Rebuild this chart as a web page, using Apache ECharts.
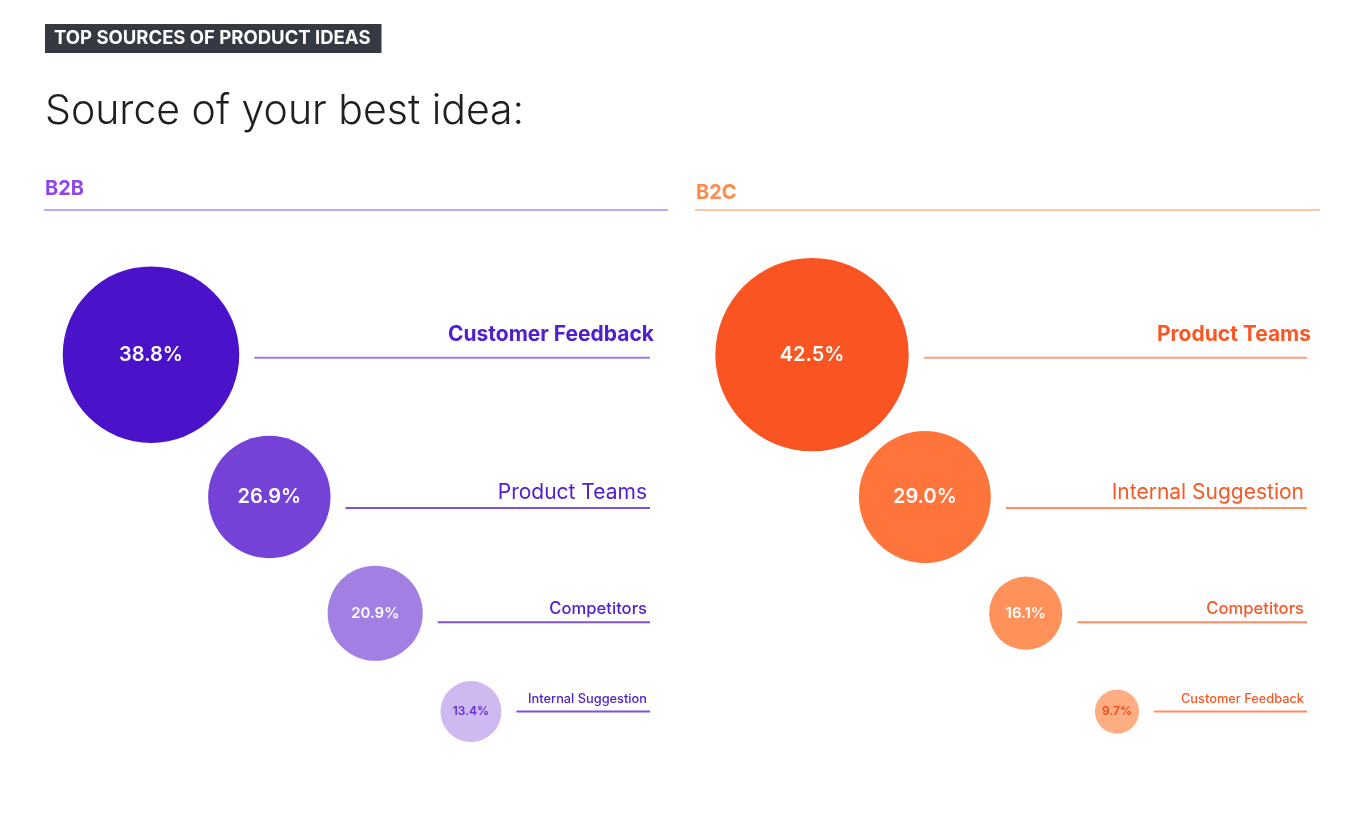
<!DOCTYPE html>
<html>
<head>
<meta charset="utf-8">
<script src="https://cdn.jsdelivr.net/npm/echarts@6/dist/echarts.min.js"></script>
<style>
html,body{margin:0;padding:0;background:#fff;}
#chart{width:1371px;height:832px;}
</style>
</head>
<body>
<div id="chart"></div>
<script>
// ---- data ----
const b2bLabels = ['Customer Feedback', 'Product Teams', 'Competitors', 'Internal Suggestion'];
const b2bValues = [38.8, 26.9, 20.9, 13.4];
const b2cLabels = ['Product Teams', 'Internal Suggestion', 'Competitors', 'Customer Feedback'];
const b2cValues = [42.5, 29.0, 16.1, 9.7];

// ---- layout / styles ----
// bubbles sit on log scales of (rank + base), so the steps tighten as the bubbles shrink
const ROW_BASE = 4;
const COL_BASE = 8;
const FONT = 'Inter, "Open Sans", sans-serif';
const SIZE_K = 4.55; // bubble diameter per percentage point
const b2bStyle = {
  circles: ['#4a13c9', '#7442d6', '#a27fe3', '#cfb9f1'],
  pctColor: ['#ffffff', '#ffffff', '#ffffff', '#6330cf'],
  text: '#5120cc',
  lines: ['#9c7ae6', '#7d50de', '#7d50de', '#7d50de']
};
const b2cStyle = {
  circles: ['#f95421', '#ff743a', '#ff915a', '#ffae84'],
  pctColor: ['#ffffff', '#ffffff', '#ffffff', '#f04a18'],
  text: '#f95724',
  lines: ['#ffa080', '#ff8c63', '#ff8c63', '#ff8c63']
};
const pctSize = [20, 20, 15, 12];
const nameSize = [21, 21, 16.6, 12.8];
const nameWeight = [700, 400, 500, 500];
const nameDx = [4, -3, -3, -3];
const lineDy = [3, 11, 9, 0];
const nameGap = [15, 8, 8, 9];

function bubbleSeries(values, st, gi) {
  return {
    type: 'scatter',
    xAxisIndex: gi, yAxisIndex: gi,
    clip: false,
    symbolSize: d => d[2] * SIZE_K,
    data: values.map((v, i) => ({
      value: [i + COL_BASE, i + ROW_BASE, v],
      itemStyle: { color: st.circles[i], opacity: 1 },
      label: { fontSize: pctSize[i], color: st.pctColor[i] }
    })),
    label: {
      show: true, position: 'inside', fontFamily: FONT, fontWeight: 600,
      formatter: p => p.value[2].toFixed(1) + '%'
    },
    emphasis: { disabled: true },
    z: 3
  };
}

function leaderSeries(values, labels, st, gi) {
  return {
    type: 'custom',
    xAxisIndex: gi, yAxisIndex: gi,
    clip: false,
    silent: true,
    data: values.map((v, i) => [i + COL_BASE, i + ROW_BASE, v]),
    renderItem: (params, api) => {
      const i = params.dataIndex;
      const c = api.coord([api.value(0), api.value(1)]);
      const r = api.value(2) * SIZE_K / 2;
      const cs = params.coordSys;
      const x0 = c[0] + r + 15;
      const x1 = cs.x + cs.width;
      const ly = c[1] + lineDy[i];
      return {
        type: 'group',
        children: [
          { type: 'line', shape: { x1: x0, y1: ly, x2: x1, y2: ly },
            style: { stroke: st.lines[i], lineWidth: 2 } },
          { type: 'text',
            style: { text: labels[i], x: x1 + nameDx[i], y: ly - nameGap[i] + 3,
                     align: 'right', verticalAlign: 'bottom',
                     fill: st.text, fontSize: nameSize[i], fontWeight: nameWeight[i], fontFamily: FONT } }
        ]
      };
    },
    z: 2
  };
}

const yAx = { type: 'log', logBase: 10, inverse: true, min: 3.4, max: 7.4, show: false };

const option = {
  backgroundColor: '#ffffff',
  animation: false,
  title: [
    { text: 'TOP SOURCES OF PRODUCT IDEAS', left: 45, top: 24, backgroundColor: '#353a42',
      padding: [5, 11, 5, 9],
      textStyle: { color: '#ffffff', fontSize: 18.5, fontWeight: 700, fontFamily: FONT } },
    { text: 'Source of your best idea:', left: 40, top: 86,
      textStyle: { color: '#1f1f1f', fontSize: 41, fontWeight: 300, fontFamily: FONT } },
    { text: 'B2B', left: 40, top: 174,
      textStyle: { color: '#9047ea', fontSize: 20, fontWeight: 700, fontFamily: FONT } },
    { text: 'B2C', left: 691, top: 178,
      textStyle: { color: '#ff8a4c', fontSize: 20, fontWeight: 700, fontFamily: FONT } }
  ],
  graphic: [
    { type: 'line', shape: { x1: 44, y1: 210, x2: 668, y2: 210 }, style: { stroke: '#c5a6f2', lineWidth: 2 } },
    { type: 'line', shape: { x1: 695, y1: 210, x2: 1320, y2: 210 }, style: { stroke: '#ffc4a2', lineWidth: 2 } }
  ],
  grid: [
    { left: 44, right: 721, top: 251, bottom: 85 },
    { left: 695, right: 64, top: 251, bottom: 85 }
  ],
  xAxis: [
    { gridIndex: 0, type: 'log', logBase: 10, min: 7.1918, max: 13.146, show: false },
    { gridIndex: 1, type: 'log', logBase: 10, min: 7.0798, max: 13.414, show: false }
  ],
  yAxis: [
    Object.assign({ gridIndex: 0 }, yAx),
    Object.assign({ gridIndex: 1 }, yAx)
  ],
  series: [
    bubbleSeries(b2bValues, b2bStyle, 0),
    leaderSeries(b2bValues, b2bLabels, b2bStyle, 0),
    bubbleSeries(b2cValues, b2cStyle, 1),
    leaderSeries(b2cValues, b2cLabels, b2cStyle, 1)
  ]
};

const chart = echarts.init(document.getElementById('chart'), null, { renderer: 'canvas' });
chart.setOption(option);
</script>
</body>
</html>
